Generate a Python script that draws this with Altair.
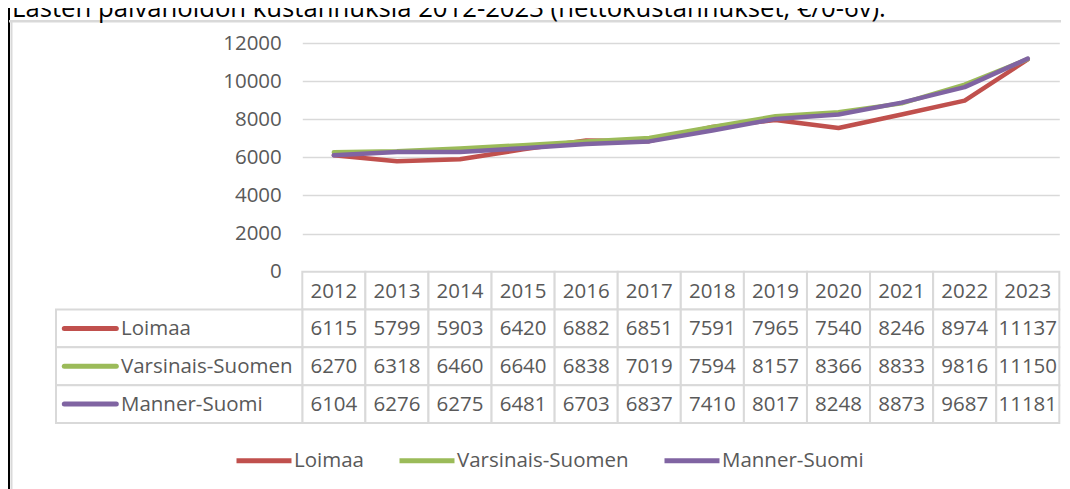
import altair as alt
import pandas as pd

# ---------------- data ----------------
title_text = "Lasten päivähoidon kustannuksia 2012-2023 (nettokustannukset, €/0-6v)."
years = ["2012", "2013", "2014", "2015", "2016", "2017",
         "2018", "2019", "2020", "2021", "2022", "2023"]
series_names = ["Loimaa", "Varsinais-Suomen", "Manner-Suomi"]
loimaa = [6115, 5799, 5903, 6420, 6882, 6851, 7591, 7965, 7540, 8246, 8974, 11137]
varsinais = [6270, 6318, 6460, 6640, 6838, 7019, 7594, 8157, 8366, 8833, 9816, 11150]
manner = [6104, 6276, 6275, 6481, 6703, 6837, 7410, 8017, 8248, 8873, 9687, 11181]
colors = ["#C0504D", "#9BBB59", "#8064A2"]
y_ticks = [0, 2000, 4000, 6000, 8000, 10000, 12000]

series_values = dict(zip(series_names, [loimaa, varsinais, manner]))

# long table for lines
line_rows = []
for s in series_names:
    for y, v in zip(years, series_values[s]):
        line_rows.append({"year": y, "series": s, "value": v})
line_df = pd.DataFrame(line_rows)

# data-table cells
cell_rows = [{"year": y, "row": "head", "label": y} for y in years]
for s in series_names:
    for y, v in zip(years, series_values[s]):
        cell_rows.append({"year": y, "row": s, "label": str(v)})
cell_df = pd.DataFrame(cell_rows)
label_df = pd.DataFrame({"row": series_names, "series": series_names})
rows_domain = ["head"] + series_names

# ---------------- style ----------------
FONT = "Open Sans"
FS = 20.5
TXT = "#595959"
GRID = "#d9d9d9"
W, H = 757, 380
ZERO_Y = 228.7

xscale = alt.Scale(type="band", domain=years, paddingInner=0, paddingOuter=0)
rows_scale = alt.Scale(type="band", domain=rows_domain, range=[ZERO_Y, H],
                       paddingInner=0, paddingOuter=0)

legend = alt.Legend(orient="none", legendX=-68.3, legendY=387.5,
                    direction="horizontal", title=None, symbolType="stroke",
                    symbolSize=3025, symbolStrokeWidth=5, labelFont=FONT,
                    labelFontSize=FS, labelColor=TXT, columnPadding=25,
                    labelOffset=0, padding=0, labelLimit=400)
color = alt.Color("series:N", scale=alt.Scale(domain=series_names, range=colors),
                  legend=legend)

lines = alt.Chart(line_df).mark_line(
    strokeWidth=4.5, strokeCap="round", strokeJoin="round"
).encode(
    x=alt.X("year:O", scale=xscale, axis=None, bandPosition=0.5),
    y=alt.Y("value:Q",
            scale=alt.Scale(domain=[0, 12000], range=[ZERO_Y, 0], nice=False),
            axis=alt.Axis(values=y_ticks, title=None, domain=False, ticks=False,
                          grid=True, gridColor=GRID, gridWidth=1.5, format="d",
                          labelFont=FONT, labelFontSize=FS, labelColor=TXT,
                          labelPadding=21)),
    color=color,
)

Xb = alt.X("year:O", scale=xscale, axis=None, bandPosition=0.5)
Yr = alt.Y("row:O", scale=rows_scale, axis=None)
Yrc = alt.Y("row:O", scale=rows_scale, axis=None, bandPosition=0.5)

cells = alt.Chart(cell_df).mark_rect(fill="white", stroke=GRID, strokeWidth=2).encode(
    x=alt.X("year:O", scale=xscale, axis=None), y=Yr)
cell_text = alt.Chart(cell_df).mark_text(
    font=FONT, fontSize=FS, color=TXT, baseline="middle", dy=1
).encode(x=Xb, y=Yrc, text="label:N")
label_cells = alt.Chart(label_df).mark_rect(fill="white", stroke=GRID, strokeWidth=2).encode(
    x=alt.value(-246.3), x2=alt.value(0), y=Yr)
label_text = alt.Chart(label_df).mark_text(
    font=FONT, fontSize=FS, color=TXT, align="left", baseline="middle", dy=1
).encode(x=alt.value(-181.3), y=Yrc, text="row:N")
swatch = alt.Chart(label_df).mark_rule(strokeWidth=5, strokeCap="round").encode(
    x=alt.value(-238), x2=alt.value(-186), y=Yrc, color=color)

table = alt.layer(cells, cell_text, label_cells, label_text, swatch)

dummy = alt.Data(values=[{"t": title_text}])
title_mark = alt.Chart(dummy).mark_text(
    font=FONT, fontSize=25.7, color="black", align="left", baseline="alphabetic"
).encode(x=alt.value(-290.3), y=alt.value(-26), text="t:N")
frame_black = alt.Chart(dummy).mark_rule(color="black", strokeWidth=2).encode(
    x=alt.value(-293.3), y=alt.value(-43), y2=alt.value(446))
frame_grayv = alt.Chart(dummy).mark_rule(color=GRID, strokeWidth=2).encode(
    x=alt.value(-290.8), y=alt.value(-21.5), y2=alt.value(446))
frame_grayh = alt.Chart(dummy).mark_rule(color=GRID, strokeWidth=2.5).encode(
    x=alt.value(-293.3), x2=alt.value(768), y=alt.value(-21.7))

chart = alt.layer(
    frame_black, frame_grayv, frame_grayh, title_mark, lines, table
).resolve_scale(y="independent").properties(
    width=W, height=H,
    autosize=alt.AutoSizeParams(type="none"),
    padding={"left": 294.3, "top": 35, "right": 2, "bottom": 66},
).configure_view(stroke=None)

chart.save("out.html", embed_options={"renderer": "svg", "actions": False})
